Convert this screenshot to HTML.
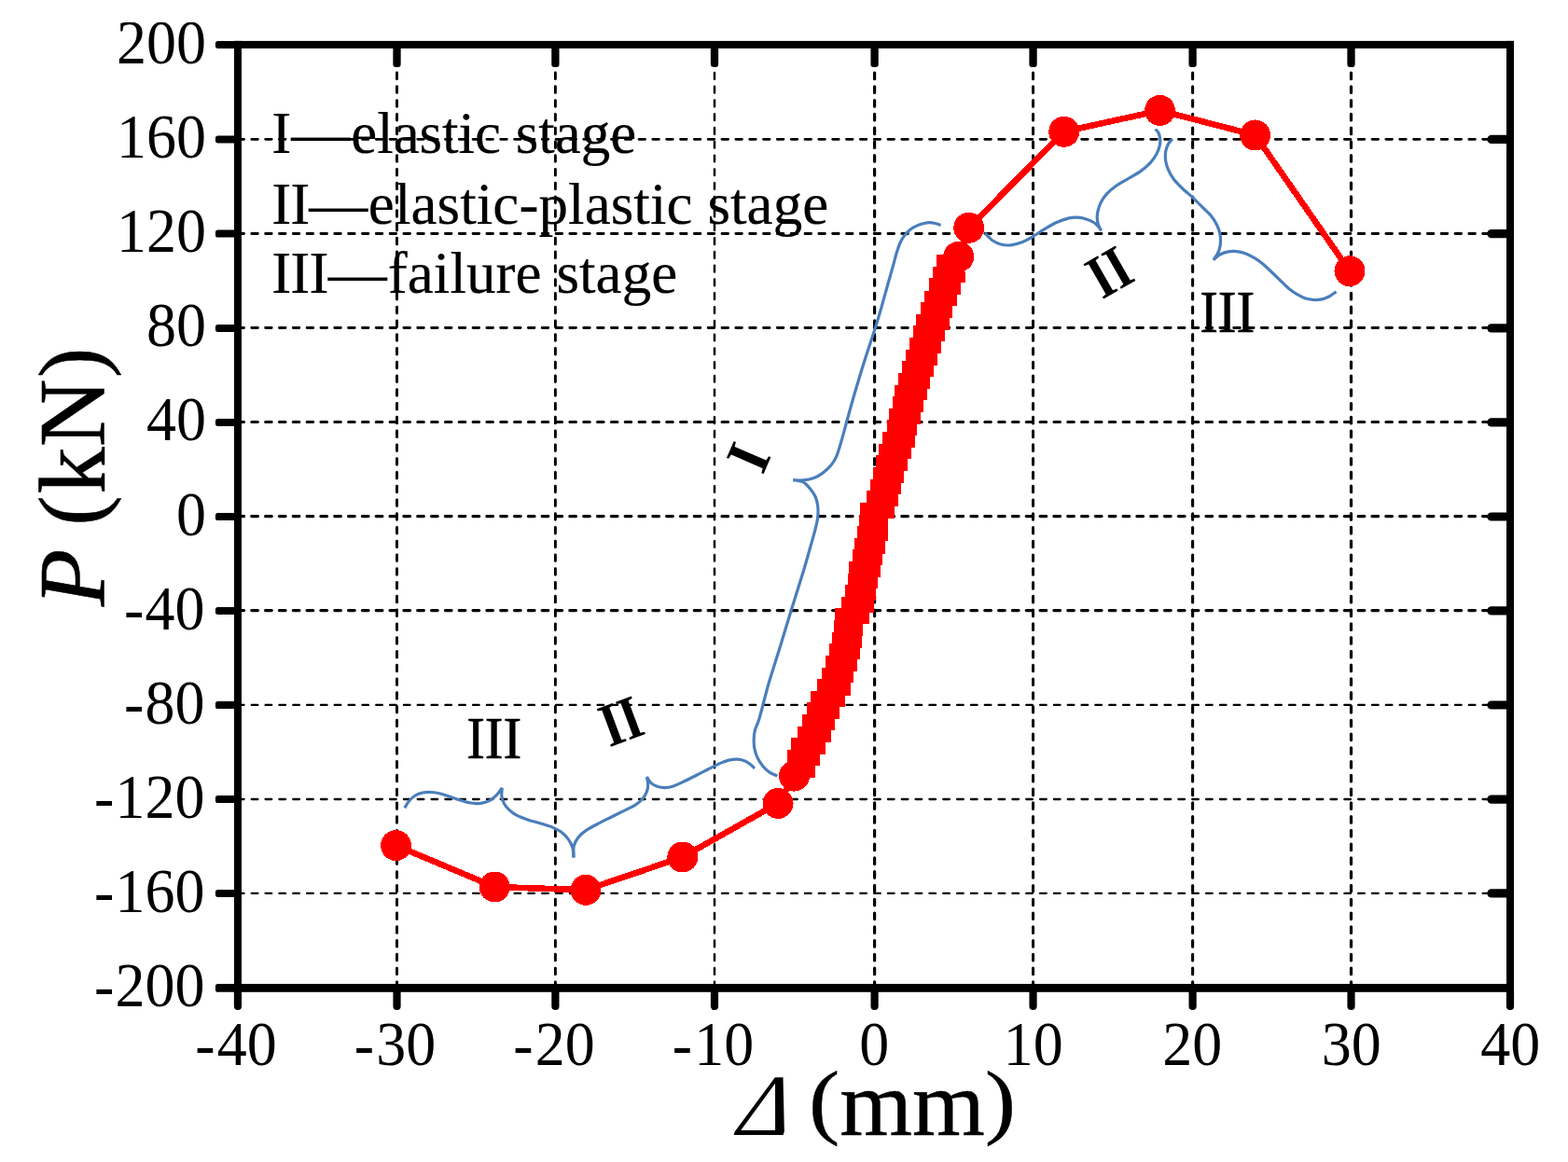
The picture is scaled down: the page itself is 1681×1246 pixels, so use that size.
<!DOCTYPE html>
<html lang="en">
<head>
<meta charset="utf-8">
<title>P-Δ skeleton curve</title>
<style>
html,body{margin:0;padding:0;background:#fff;}
body{width:1681px;height:1246px;overflow:hidden;position:relative;}
svg{display:block;}
.xt{position:absolute;height:0;line-height:0;white-space:pre;font-family:"Liberation Serif",serif;font-size:100px;color:#000;-webkit-text-stroke:0.5px #000;}
.xt span{position:relative;}
.xt .dl{display:inline-block;font-style:italic;font-size:93.5px;-webkit-text-stroke:0;transform:skewX(-8deg);transform-origin:0 0;left:7.00px;top:0.00px;}
.xt .pl{display:inline-block;transform:scaleY(0.897);transform-origin:0 0;top:-4.00px;left:0.00px;-webkit-text-stroke-width:0.4px;}
.xt .mm{left:0.00px;}
.xt .pr{display:inline-block;transform:scaleY(0.897);transform-origin:0 0;top:-4.00px;left:0.00px;-webkit-text-stroke-width:0.4px;}
</style>
</head>
<body>
<svg width="1681" height="1246" viewBox="0 0 1681 1246">
<rect width="1681" height="1246" fill="#fff"/>
<g id="grid" stroke="#000" fill="none">
<line x1="425.50" y1="47.0" x2="425.50" y2="1059.40" stroke-width="2.9" stroke-dasharray="6.6 8.17" stroke-dashoffset="-1.5" stroke-linecap="round"/>
<line x1="595.40" y1="47.0" x2="595.40" y2="1059.40" stroke-width="2.9" stroke-dasharray="6.6 8.17" stroke-dashoffset="-1.5" stroke-linecap="round"/>
<line x1="766.00" y1="47.0" x2="766.00" y2="1059.40" stroke-width="2.5" stroke-dasharray="6.6 8.17" stroke-dashoffset="-1.5" stroke-linecap="round"/>
<line x1="937.60" y1="47.0" x2="937.60" y2="1059.40" stroke-width="3.2" stroke-dasharray="6.6 8.17" stroke-dashoffset="-1.5" stroke-linecap="round"/>
<line x1="1107.55" y1="47.0" x2="1107.55" y2="1059.40" stroke-width="3.0" stroke-dasharray="6.6 8.17" stroke-dashoffset="-1.5" stroke-linecap="round"/>
<line x1="1278.60" y1="47.0" x2="1278.60" y2="1059.40" stroke-width="3.1" stroke-dasharray="6.6 8.17" stroke-dashoffset="-1.5" stroke-linecap="round"/>
<line x1="1448.50" y1="47.0" x2="1448.50" y2="1059.40" stroke-width="3.2" stroke-dasharray="6.6 8.17" stroke-dashoffset="-1.5" stroke-linecap="round"/>
<line x1="253.25" y1="149.30" x2="1619.00" y2="149.30" stroke-width="2.8" stroke-dasharray="6.6 8.23" stroke-dashoffset="-1.7" stroke-linecap="round"/>
<line x1="253.25" y1="250.50" x2="1619.00" y2="250.50" stroke-width="2.8" stroke-dasharray="6.6 8.23" stroke-dashoffset="-1.7" stroke-linecap="round"/>
<line x1="253.25" y1="351.50" x2="1619.00" y2="351.50" stroke-width="2.8" stroke-dasharray="6.6 8.23" stroke-dashoffset="-1.7" stroke-linecap="round"/>
<line x1="253.25" y1="452.60" x2="1619.00" y2="452.60" stroke-width="3.0" stroke-dasharray="6.6 8.23" stroke-dashoffset="-1.7" stroke-linecap="round"/>
<line x1="253.25" y1="553.60" x2="1619.00" y2="553.60" stroke-width="3.3" stroke-dasharray="6.6 8.23" stroke-dashoffset="-1.7" stroke-linecap="round"/>
<line x1="253.25" y1="654.60" x2="1619.00" y2="654.60" stroke-width="3.3" stroke-dasharray="6.6 8.23" stroke-dashoffset="-1.7" stroke-linecap="round"/>
<line x1="253.25" y1="755.90" x2="1619.00" y2="755.90" stroke-width="2.3" stroke-dasharray="6.6 8.23" stroke-dashoffset="-1.7" stroke-linecap="round"/>
<line x1="253.25" y1="857.00" x2="1619.00" y2="857.00" stroke-width="2.3" stroke-dasharray="6.6 8.23" stroke-dashoffset="-1.7" stroke-linecap="round"/>
<line x1="253.25" y1="957.90" x2="1619.00" y2="957.90" stroke-width="2.3" stroke-dasharray="6.6 8.23" stroke-dashoffset="-1.7" stroke-linecap="round"/>
</g>
<g id="legend" font-family="'Liberation Serif', serif" font-size="63" fill="#000" stroke="#000" stroke-width="0.2">
<text x="291.2" y="164.4">I—<tspan dx="1">elastic stage</tspan></text>
<text x="291.2" y="240"><tspan letter-spacing="-0.95">II</tspan>—<tspan dx="0.6" letter-spacing="0.09">elastic-plastic stage</tspan></text>
<text x="291.2" y="314.2"><tspan letter-spacing="-0.8">III</tspan>—<tspan dx="1" letter-spacing="0.07">failure stage</tspan></text>
</g>
<g id="braces" stroke="#4a7ebb" stroke-width="3.2" fill="none" stroke-linecap="butt" stroke-linejoin="miter" stroke-miterlimit="6">
<path d="M1008.6 241.4 C1007.6 241.1 1004.6 239.9 1002.6 239.5 C1000.6 239.1 998.6 238.7 996.6 238.7 C994.6 238.7 992.8 239.0 990.6 239.5 C988.4 240.0 985.7 240.8 983.3 241.9 C980.9 243.0 978.3 244.2 976.1 245.9 C973.9 247.6 971.9 249.6 970.1 251.9 C968.3 254.2 966.7 256.8 965.3 259.7 C963.9 262.6 962.9 265.6 961.7 269.4 C960.5 273.2 959.7 276.8 958.1 282.6 C956.5 288.4 955.0 293.7 952.0 304.3 C949.0 314.9 944.0 333.4 940.0 346.4 C936.0 359.4 932.2 369.9 928.2 382.5 C924.2 395.1 919.5 410.6 916.1 422.2 C912.7 433.8 910.1 443.7 907.7 452.3 C905.3 460.9 903.6 467.8 901.7 474.0 C899.9 480.2 898.5 485.4 896.6 489.6 C894.8 493.8 893.0 496.4 890.6 499.3 C888.2 502.2 885.1 504.9 882.1 507.1 C879.1 509.3 875.9 511.2 872.5 512.5 C869.1 513.8 865.4 514.5 861.7 514.9 C858.0 515.3 852.1 514.7 850.2 514.7 M850.2 514.7 C852.1 515.1 858.6 515.6 861.7 517.3 C864.8 518.9 866.8 522.0 868.9 524.6 C871.0 527.2 873.0 530.0 874.3 533.0 C875.6 536.0 876.3 539.0 876.7 542.6 C877.1 546.2 877.1 550.7 876.7 554.7 C876.3 558.7 875.6 561.5 874.3 566.7 C873.0 571.9 871.0 578.6 868.9 586.0 C866.8 593.4 865.2 599.8 861.7 611.2 C858.2 622.6 852.5 640.8 848.2 654.6 C843.9 668.5 840.1 681.3 836.1 694.3 C832.1 707.3 827.8 720.2 824.1 732.8 C820.5 745.4 816.7 761.3 814.2 769.7 C811.8 778.1 810.4 779.2 809.4 783.0 C808.4 786.8 808.3 789.4 808.2 792.6 C808.1 795.8 808.2 799.0 808.8 802.2 C809.4 805.4 810.3 808.7 811.8 811.9 C813.3 815.1 815.6 818.8 817.8 821.5 C820.0 824.2 822.4 826.3 825.0 828.1 C827.6 829.9 832.0 831.4 833.4 832.1"/>
<path d="M1055.9 249.8 C1057.2 251.1 1060.9 255.7 1063.8 257.7 C1066.7 259.7 1069.8 261.1 1073.1 262.0 C1076.4 262.9 1080.0 263.2 1083.7 262.8 C1087.5 262.4 1091.8 261.1 1095.6 259.7 C1099.3 258.3 1102.2 256.7 1106.2 254.4 C1110.2 252.1 1115.1 248.5 1119.5 245.8 C1123.9 243.2 1128.3 240.5 1132.7 238.5 C1137.1 236.5 1142.2 234.8 1146.0 233.9 C1149.8 233.0 1152.1 233.0 1155.2 233.2 C1158.3 233.4 1161.6 234.1 1164.5 235.0 C1167.4 235.9 1170.3 237.1 1172.5 238.5 C1174.7 239.9 1176.3 241.7 1177.7 243.2 C1179.1 244.7 1180.2 246.7 1180.7 247.4 M1180.7 247.4 C1180.2 246.5 1178.5 244.2 1177.7 241.9 C1177.0 239.7 1176.3 236.6 1176.2 233.9 C1176.1 231.2 1176.4 228.9 1177.1 226.0 C1177.8 223.1 1178.8 219.8 1180.4 216.7 C1182.1 213.6 1184.3 210.3 1187.0 207.4 C1189.7 204.5 1192.5 202.2 1196.3 199.5 C1200.0 196.8 1205.1 194.2 1209.5 191.5 C1213.9 188.8 1218.8 186.5 1222.8 183.6 C1226.8 180.7 1230.5 177.4 1233.4 174.3 C1236.3 171.2 1238.3 168.1 1240.0 165.0 C1241.7 161.9 1242.7 158.5 1243.3 155.8 C1243.9 153.2 1243.9 151.3 1243.7 149.1 C1243.5 146.9 1242.8 144.3 1242.0 142.5 C1241.2 140.7 1239.2 139.2 1238.7 138.5"/>
<path d="M1256.9 148.9 C1256.1 149.9 1253.4 152.6 1252.2 154.9 C1251.0 157.2 1250.0 159.9 1249.6 162.8 C1249.2 165.7 1249.2 169.0 1249.6 172.1 C1250.0 175.2 1250.8 178.1 1252.2 181.4 C1253.6 184.7 1255.6 188.5 1258.2 192.0 C1260.8 195.5 1264.7 199.2 1268.1 202.5 C1271.5 205.8 1275.2 208.5 1278.7 211.8 C1282.2 215.1 1286.0 219.1 1289.3 222.4 C1292.6 225.7 1296.1 228.6 1298.6 231.7 C1301.1 234.8 1303.0 237.9 1304.5 241.0 C1306.0 244.1 1307.1 247.1 1307.8 250.2 C1308.5 253.3 1308.6 256.6 1308.5 259.5 C1308.4 262.4 1307.9 265.2 1307.2 267.5 C1306.5 269.8 1305.6 271.5 1304.5 273.4 C1303.4 275.3 1301.4 277.8 1300.8 278.7 M1300.8 278.7 C1301.9 277.8 1304.9 274.8 1307.2 273.4 C1309.5 272.0 1311.8 271.1 1314.5 270.4 C1317.2 269.7 1320.4 269.2 1323.7 269.4 C1327.0 269.6 1330.8 270.2 1334.3 271.4 C1337.8 272.6 1341.6 274.7 1344.9 276.7 C1348.2 278.7 1351.1 280.8 1354.2 283.3 C1357.3 285.9 1360.2 288.9 1363.5 292.0 C1366.8 295.1 1370.6 298.8 1373.7 301.8 C1376.8 304.8 1379.3 307.5 1382.1 309.8 C1384.9 312.1 1387.8 314.1 1390.6 315.7 C1393.4 317.3 1396.2 318.8 1399.0 319.7 C1401.8 320.6 1404.6 321.1 1407.4 321.4 C1410.2 321.6 1413.1 321.7 1415.9 321.2 C1418.7 320.7 1422.1 319.2 1424.3 318.2 C1426.5 317.2 1427.9 315.9 1429.3 315.0 C1430.7 314.1 1432.0 313.1 1432.5 312.7"/>
<path d="M433.9 866.3 C434.7 865.1 436.6 861.2 438.5 859.0 C440.4 856.8 442.8 854.5 445.2 853.0 C447.6 851.5 450.2 850.6 453.1 850.0 C456.0 849.4 459.1 849.3 462.4 849.5 C465.7 849.7 469.5 850.4 473.0 851.3 C476.5 852.2 480.1 853.6 483.6 854.8 C487.1 856.0 490.7 857.3 494.2 858.3 C497.7 859.3 501.3 860.5 504.8 861.0 C508.3 861.5 512.1 861.8 515.4 861.4 C518.7 861.0 521.7 860.2 524.6 858.7 C527.5 857.2 530.3 854.7 532.6 852.4 C534.9 850.1 537.3 846.0 538.3 844.7 M538.3 844.7 C538.2 846.2 537.5 850.9 537.9 853.7 C538.3 856.5 539.2 859.3 540.5 861.7 C541.8 864.1 543.6 866.2 545.8 868.3 C548.0 870.4 550.5 872.4 553.8 874.2 C557.1 876.0 561.5 877.5 565.7 878.9 C569.9 880.3 574.5 881.4 578.9 882.8 C583.3 884.2 588.4 885.5 592.2 887.1 C596.0 888.7 598.6 889.9 601.5 892.1 C604.4 894.3 607.3 897.2 609.4 900.1 C611.5 903.0 613.1 906.1 614.0 909.3 C614.9 912.5 614.8 917.8 615.0 919.5"/>
<path d="M615.0 919.5 C615.0 917.5 614.4 910.8 615.2 907.2 C616.0 903.6 617.6 900.8 619.9 897.9 C622.2 895.0 625.4 892.4 629.1 889.9 C632.9 887.4 638.0 884.9 642.4 882.6 C646.8 880.3 651.2 878.2 655.6 876.0 C660.0 873.8 664.7 871.5 668.9 869.4 C673.1 867.3 677.5 865.5 680.8 863.4 C684.1 861.3 686.6 859.2 688.7 856.8 C690.8 854.4 692.4 851.5 693.4 848.9 C694.4 846.2 694.7 843.5 694.7 840.9 C694.7 838.2 693.6 834.3 693.4 833.0 M693.4 833.0 C694.2 834.1 696.1 837.9 698.0 839.6 C699.9 841.3 702.2 842.5 704.6 843.3 C707.0 844.1 709.7 844.7 712.6 844.6 C715.5 844.5 718.6 844.0 721.9 842.9 C725.2 841.8 728.5 840.2 732.5 838.3 C736.5 836.4 741.3 833.9 745.7 831.7 C750.1 829.5 754.5 827.2 758.9 825.0 C763.3 822.8 768.4 820.0 772.2 818.4 C776.0 816.8 778.4 815.8 781.5 815.1 C784.6 814.4 787.8 814.1 790.7 814.2 C793.6 814.4 796.4 815.1 798.7 816.0 C801.0 816.9 802.9 818.4 804.6 819.7 C806.3 821.0 808.3 823.3 809.0 824.0"/>
</g>
<g id="data" shape-rendering="crispEdges">
<polyline fill="none" stroke="#f00" stroke-width="6.6" stroke-linejoin="round" points="424.5,906.6 530.2,951.0 628.0,954.3 731.8,919.0 834.0,861.4 851.5,832.1 1027.7,275.3 1038.8,244.2 1140.8,141.2 1243.5,118.5 1345.7,144.9 1447.0,290.7"/>
<polygon fill="#f00" points="1004.4,273.0 1004.4,286.2 1000.2,286.2 1000.2,298.3 996.0,298.3 996.0,312.1 991.2,312.1 991.2,324.2 987.0,324.2 987.0,336.8 982.1,336.8 982.1,349.4 979.0,349.4 979.0,362.1 975.0,362.1 975.0,375.0 971.1,375.0 971.1,387.1 967.1,387.1 967.1,400.3 963.1,400.3 963.1,413.0 959.1,413.0 959.1,425.3 957.1,425.3 957.1,438.3 953.1,438.3 953.1,450.3 951.0,450.3 951.0,463.2 946.2,463.2 946.2,476.2 942.0,476.2 942.0,488.0 939.0,488.0 939.0,501.1 936.1,501.1 936.1,514.0 933.1,514.0 933.1,526.0 929.1,526.0 929.1,539.0 922.1,539.0 922.1,552.2 921.3,552.2 921.3,564.3 919.1,564.3 919.1,576.9 916.1,576.9 916.1,589.0 914.0,589.0 914.0,602.2 910.0,602.2 910.0,615.0 909.0,615.0 909.0,627.3 906.0,627.3 906.0,640.1 902.1,640.1 902.1,652.1 895.1,652.1 895.1,665.4 894.2,665.4 894.2,678.0 892.1,678.0 892.1,690.1 889.1,690.1 889.1,703.0 885.1,703.0 885.1,716.3 881.0,716.3 881.0,728.2 876.1,728.2 876.1,741.3 869.0,741.3 869.0,753.4 865.1,753.4 865.1,766.1 860.2,766.1 860.2,779.1 855.1,779.1 855.1,791.4 848.3,791.4 848.3,804.0 844.0,804.0 844.0,816.7 851.5,816.7 851.5,833.5 873.8,833.5 873.8,820.5 879.0,820.5 879.0,808.9 885.0,808.9 885.0,796.0 890.9,796.0 890.9,783.0 894.9,783.0 894.9,770.7 899.9,770.7 899.9,757.8 906.0,757.8 906.0,745.7 912.0,745.7 912.0,732.1 915.0,732.1 915.0,719.9 919.0,719.9 919.0,706.9 922.0,706.9 922.0,694.9 924.0,694.9 924.0,682.0 925.0,682.0 925.0,669.0 932.1,669.0 932.1,657.0 936.9,657.0 936.9,644.3 938.8,644.3 938.8,631.1 940.9,631.1 940.9,618.9 943.9,618.9 943.9,605.8 946.0,605.8 946.0,593.8 949.0,593.8 949.0,579.9 952.0,579.9 952.0,555.9 959.0,555.9 959.0,542.9 963.1,542.9 963.1,529.7 966.1,529.7 966.1,517.6 969.1,517.6 969.1,504.7 973.0,504.7 973.0,492.4 976.9,492.4 976.9,479.8 980.9,479.8 980.9,466.8 983.0,466.8 983.0,454.8 986.9,454.8 986.9,441.8 990.0,441.8 990.0,428.9 994.0,428.9 994.0,416.8 997.0,416.8 997.0,403.9 1001.0,403.9 1001.0,391.9 1005.2,391.9 1005.2,378.9 1009.0,378.9 1009.0,366.0 1013.0,366.0 1013.0,353.6 1018.0,353.6 1018.0,341.0 1020.9,341.0 1020.9,327.8 1026.1,327.8 1026.1,315.7 1030.1,315.7 1030.1,303.1 1035.1,303.1 1035.1,291.0 1027.7,291.0 1027.7,273.0"/>
<g fill="#f00">
<circle cx="424.50" cy="906.60" r="16.5"/>
<circle cx="530.20" cy="951.00" r="16.5"/>
<circle cx="628.00" cy="954.30" r="16.5"/>
<circle cx="731.80" cy="919.00" r="16.5"/>
<circle cx="834.05" cy="861.40" r="16.5"/>
<circle cx="851.45" cy="832.10" r="16.5"/>
<circle cx="1027.70" cy="275.30" r="16.5"/>
<circle cx="1038.75" cy="244.25" r="16.5"/>
<circle cx="1140.75" cy="141.25" r="16.5"/>
<circle cx="1243.50" cy="118.45" r="16.5"/>
<circle cx="1345.70" cy="144.95" r="16.5"/>
<circle cx="1446.95" cy="290.70" r="16.5"/>
</g>
</g>
<g id="axes" fill="#000">
<rect x="250.95" y="43.90" width="1372.05" height="8"/>
<rect x="250.95" y="1055.00" width="1372.05" height="8.8"/>
<rect x="250.95" y="43.90" width="8" height="1019.90"/>
<rect x="1615.00" y="43.90" width="8" height="1019.90"/>
<rect x="250.85" y="1059.40" width="8.2" height="23.60" rx="4"/>
<rect x="421.40" y="1059.40" width="8.2" height="23.60" rx="4"/>
<rect x="421.35" y="43.90" width="8.3" height="28.00" rx="3"/>
<rect x="591.30" y="1059.40" width="8.2" height="23.60" rx="4"/>
<rect x="591.25" y="43.90" width="8.3" height="28.00" rx="3"/>
<rect x="761.90" y="1059.40" width="8.2" height="23.60" rx="4"/>
<rect x="761.85" y="43.90" width="8.3" height="28.00" rx="3"/>
<rect x="933.50" y="1059.40" width="8.2" height="23.60" rx="4"/>
<rect x="933.45" y="43.90" width="8.3" height="28.00" rx="3"/>
<rect x="1103.45" y="1059.40" width="8.2" height="23.60" rx="4"/>
<rect x="1103.40" y="43.90" width="8.3" height="28.00" rx="3"/>
<rect x="1274.50" y="1059.40" width="8.2" height="23.60" rx="4"/>
<rect x="1274.45" y="43.90" width="8.3" height="28.00" rx="3"/>
<rect x="1444.40" y="1059.40" width="8.2" height="23.60" rx="4"/>
<rect x="1444.35" y="43.90" width="8.3" height="28.00" rx="3"/>
<rect x="1614.90" y="1059.40" width="8.2" height="23.60" rx="4"/>
<rect x="230.95" y="1055.00" width="26.00" height="8.8" rx="2.6"/>
<rect x="230.95" y="953.90" width="26.00" height="8.0" rx="2.6"/>
<rect x="1594.40" y="953.30" width="26.60" height="9.2" rx="4.4"/>
<rect x="230.95" y="853.10" width="26.00" height="8.0" rx="2.6"/>
<rect x="1594.40" y="852.50" width="26.60" height="9.2" rx="4.4"/>
<rect x="230.95" y="752.00" width="26.00" height="8.0" rx="2.6"/>
<rect x="1594.40" y="751.40" width="26.60" height="9.2" rx="4.4"/>
<rect x="230.95" y="650.90" width="26.00" height="8.0" rx="2.6"/>
<rect x="1594.40" y="650.30" width="26.60" height="9.2" rx="4.4"/>
<rect x="230.95" y="550.00" width="26.00" height="8.0" rx="2.6"/>
<rect x="1594.40" y="549.40" width="26.60" height="9.2" rx="4.4"/>
<rect x="230.95" y="448.90" width="26.00" height="8.0" rx="2.6"/>
<rect x="1594.40" y="448.30" width="26.60" height="9.2" rx="4.4"/>
<rect x="230.95" y="347.90" width="26.00" height="8.0" rx="2.6"/>
<rect x="1594.40" y="347.30" width="26.60" height="9.2" rx="4.4"/>
<rect x="230.95" y="246.60" width="26.00" height="8.0" rx="2.6"/>
<rect x="1594.40" y="246.00" width="26.60" height="9.2" rx="4.4"/>
<rect x="230.95" y="145.45" width="26.00" height="8.0" rx="2.6"/>
<rect x="1594.40" y="144.85" width="26.60" height="9.2" rx="4.4"/>
<rect x="230.95" y="43.90" width="26.00" height="8.0" rx="2.6"/>
</g>
<clipPath id="c200"><rect x="0" y="23.7" width="300" height="1222"/></clipPath>
<g id="ylabels" font-family="'Liberation Serif', serif" font-size="64" fill="#000" text-anchor="end" clip-path="url(#c200)">
<text transform="translate(221 1079.35) scale(1 1.055)"><tspan dx="-1.4">-</tspan><tspan dx="1.4">200</tspan></text>
<text transform="translate(221 978.20) scale(1 1.055)"><tspan dx="-1.4">-</tspan><tspan dx="1.4">160</tspan></text>
<text transform="translate(221 877.05) scale(1 1.055)"><tspan dx="-1.4">-</tspan><tspan dx="1.4">120</tspan></text>
<text transform="translate(221 775.90) scale(1 1.055)"><tspan dx="-1.4">-</tspan><tspan dx="1.4">80</tspan></text>
<text transform="translate(221 674.75) scale(1 1.055)"><tspan dx="-1.4">-</tspan><tspan dx="1.4">40</tspan></text>
<text transform="translate(221 573.60) scale(1 1.055)">0</text>
<text transform="translate(221 472.45) scale(1 1.055)">40</text>
<text transform="translate(221 371.30) scale(1 1.055)">80</text>
<text transform="translate(221 270.15) scale(1 1.055)">120</text>
<text transform="translate(221 169.00) scale(1 1.055)">160</text>
<text transform="translate(221 67.85) scale(1 1.055)">200</text>
</g>
<g id="xlabels" font-family="'Liberation Serif', serif" font-size="64" fill="#000" text-anchor="middle">
<text transform="translate(255.15 1142.1) scale(1 1.055)"><tspan dx="-2.2">-</tspan><tspan dx="2.2">40</tspan></text>
<text transform="translate(425.66 1142.1) scale(1 1.055)"><tspan dx="-2.2">-</tspan><tspan dx="2.2">30</tspan></text>
<text transform="translate(596.16 1142.1) scale(1 1.055)"><tspan dx="-2.2">-</tspan><tspan dx="2.2">20</tspan></text>
<text transform="translate(766.67 1142.1) scale(1 1.055)"><tspan dx="-2.2">-</tspan><tspan dx="2.2">10</tspan></text>
<text transform="translate(937.17 1142.1) scale(1 1.055)">0</text>
<text transform="translate(1107.68 1142.1) scale(1 1.055)">10</text>
<text transform="translate(1278.19 1142.1) scale(1 1.055)">20</text>
<text transform="translate(1448.69 1142.1) scale(1 1.055)">30</text>
<text transform="translate(1619.20 1142.1) scale(1 1.055)">40</text>
</g>
<g id="stages" font-family="'Liberation Serif', serif" fill="#000" stroke="#000" text-anchor="middle">
<text transform="translate(1315.7 356.2) scale(0.925 1)" font-size="64" stroke-width="0.6">III</text>
<text transform="translate(529.7 813.2) scale(0.925 1)" font-size="64" stroke-width="0.6">III</text>
<text transform="translate(1189.5 292.1) rotate(-30) scale(0.84 1)" x="0" y="21.4" font-size="66" font-weight="bold" stroke-width="0">II</text>
<text transform="translate(666 773.9) rotate(-20.5) scale(0.84 1)" x="0" y="21.4" font-size="66" font-weight="bold" stroke-width="0">II</text>
<text transform="translate(802.9 490.7) rotate(-66.5) scale(0.92 1)" x="0" y="21.4" font-size="66" font-weight="bold" stroke-width="0">I</text>
</g>
<g id="titles" font-family="'Liberation Serif', serif" fill="#000" stroke="#000">
<text transform="translate(112 650.3) rotate(-90)" font-size="101" stroke-width="0.5"><tspan x="0" y="0" font-style="italic">P</tspan><tspan x="62.25" y="-2.7" font-size="97"> (</tspan><tspan x="120.6" y="0">kN</tspan><tspan x="245.2" y="-2.7" font-size="97">)</tspan></text>
</g>
</svg>
<div class="xt" style="left:787.00px;top:1184.00px"><span class="dl">Δ</span><span class="pl"> (</span><span class="mm">mm</span><span class="pr">)</span></div>
</body>
</html>
